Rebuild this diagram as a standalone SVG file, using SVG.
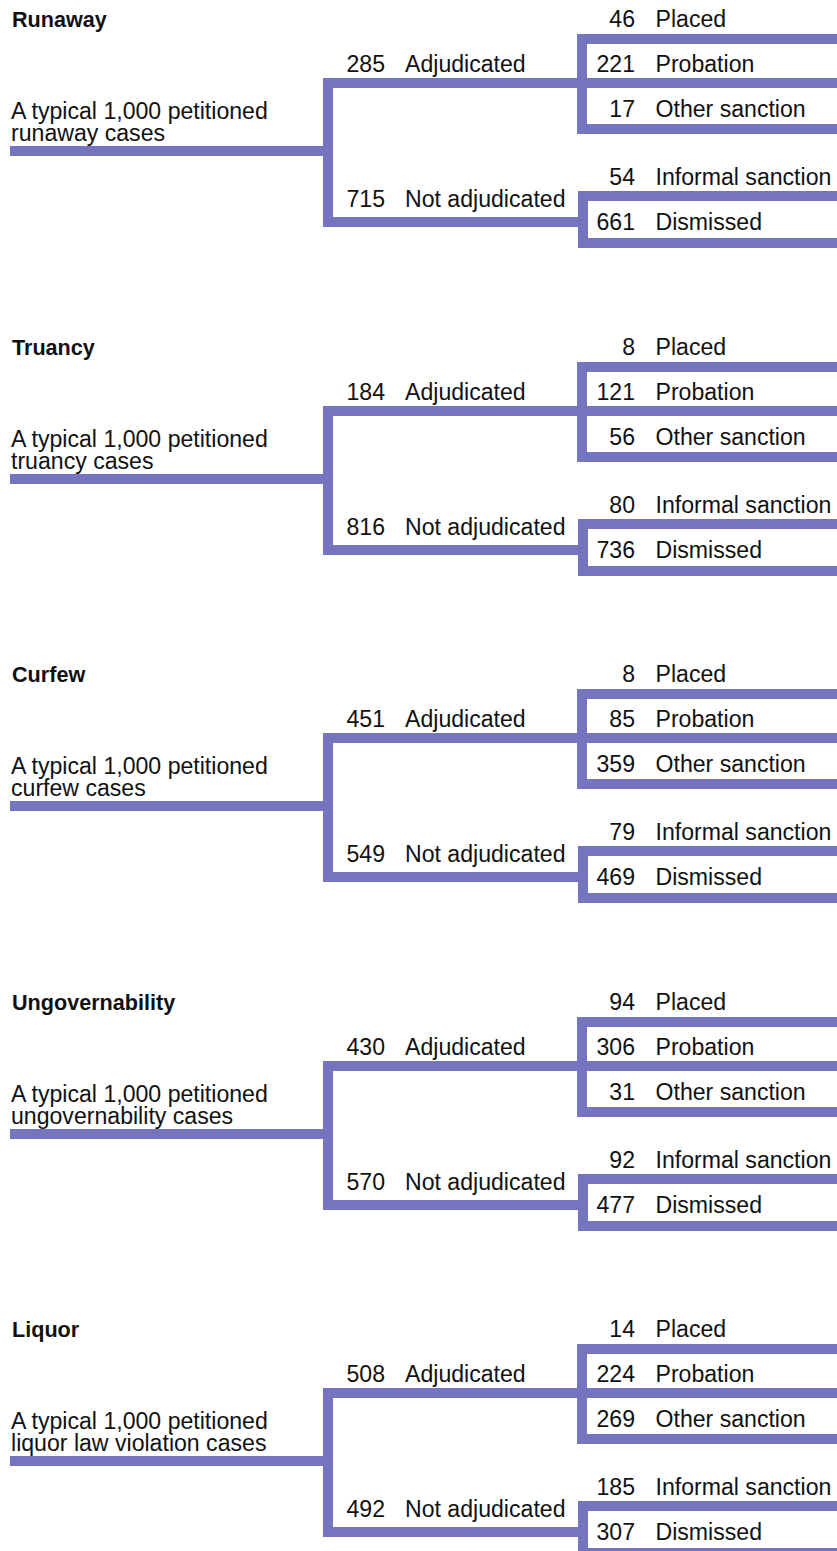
<svg xmlns="http://www.w3.org/2000/svg" xmlns:xlink="http://www.w3.org/1999/xlink" width="837" height="1551" viewBox="0 0 837 1551">
<style>
text{font-family:"Liberation Sans",Arial,Helvetica,sans-serif;font-size:23.1px;fill:#111}
.t{font-weight:bold;font-size:21.6px}
.n{text-anchor:end}
.ln{fill:none;stroke:#7474bf;stroke-width:10;stroke-linejoin:miter;stroke-linecap:butt}
</style>
<defs>
<g id="tree" class="ln">
<path d="M10,151 H328"/>
<path d="M577,83 H328 V222 H583"/>
<path d="M837,39 H582 V129 H837"/>
<path d="M582,83 H837"/>
<path d="M837,196 H583 V243 H837"/>
</g>
</defs>
<rect width="837" height="1551" fill="#fff"/>
<g id="connectors">
<use xlink:href="#tree" href="#tree" y="0"/>
<use xlink:href="#tree" href="#tree" y="328"/>
<use xlink:href="#tree" href="#tree" y="655"/>
<use xlink:href="#tree" href="#tree" y="983"/>
<use xlink:href="#tree" href="#tree" y="1310"/>
</g>

<g id="runaway" transform="translate(0,0)">
<g id="runaway-title"><text class="t" x="12" y="27">Runaway</text></g>
<g id="runaway-root"><text x="11" y="118.5">A typical 1,000 petitioned</text><text x="11" y="141">runaway cases</text></g>
<g id="runaway-adj"><text class="n" x="385" y="72">285</text><text x="405" y="72">Adjudicated</text></g>
<g id="runaway-notadj"><text class="n" x="385" y="207">715</text><text x="405" y="207">Not adjudicated</text></g>
<g id="runaway-placed"><text class="n" x="635" y="27">46</text><text x="655.5" y="27">Placed</text></g>
<g id="runaway-probation"><text class="n" x="635" y="72">221</text><text x="655.5" y="72">Probation</text></g>
<g id="runaway-other"><text class="n" x="635" y="117">17</text><text x="655.5" y="117">Other sanction</text></g>
<g id="runaway-informal"><text class="n" x="635" y="185">54</text><text x="655.5" y="185">Informal sanction</text></g>
<g id="runaway-dismissed"><text class="n" x="635" y="230">661</text><text x="655.5" y="230">Dismissed</text></g>
</g>

<g id="truancy" transform="translate(0,328)">
<g id="truancy-title"><text class="t" x="12" y="27">Truancy</text></g>
<g id="truancy-root"><text x="11" y="118.5">A typical 1,000 petitioned</text><text x="11" y="141">truancy cases</text></g>
<g id="truancy-adj"><text class="n" x="385" y="72">184</text><text x="405" y="72">Adjudicated</text></g>
<g id="truancy-notadj"><text class="n" x="385" y="207">816</text><text x="405" y="207">Not adjudicated</text></g>
<g id="truancy-placed"><text class="n" x="635" y="27">8</text><text x="655.5" y="27">Placed</text></g>
<g id="truancy-probation"><text class="n" x="635" y="72">121</text><text x="655.5" y="72">Probation</text></g>
<g id="truancy-other"><text class="n" x="635" y="117">56</text><text x="655.5" y="117">Other sanction</text></g>
<g id="truancy-informal"><text class="n" x="635" y="185">80</text><text x="655.5" y="185">Informal sanction</text></g>
<g id="truancy-dismissed"><text class="n" x="635" y="230">736</text><text x="655.5" y="230">Dismissed</text></g>
</g>

<g id="curfew" transform="translate(0,655)">
<g id="curfew-title"><text class="t" x="12" y="27">Curfew</text></g>
<g id="curfew-root"><text x="11" y="118.5">A typical 1,000 petitioned</text><text x="11" y="141">curfew cases</text></g>
<g id="curfew-adj"><text class="n" x="385" y="72">451</text><text x="405" y="72">Adjudicated</text></g>
<g id="curfew-notadj"><text class="n" x="385" y="207">549</text><text x="405" y="207">Not adjudicated</text></g>
<g id="curfew-placed"><text class="n" x="635" y="27">8</text><text x="655.5" y="27">Placed</text></g>
<g id="curfew-probation"><text class="n" x="635" y="72">85</text><text x="655.5" y="72">Probation</text></g>
<g id="curfew-other"><text class="n" x="635" y="117">359</text><text x="655.5" y="117">Other sanction</text></g>
<g id="curfew-informal"><text class="n" x="635" y="185">79</text><text x="655.5" y="185">Informal sanction</text></g>
<g id="curfew-dismissed"><text class="n" x="635" y="230">469</text><text x="655.5" y="230">Dismissed</text></g>
</g>

<g id="ungovernability" transform="translate(0,983)">
<g id="ungovernability-title"><text class="t" x="12" y="27">Ungovernability</text></g>
<g id="ungovernability-root"><text x="11" y="118.5">A typical 1,000 petitioned</text><text x="11" y="141">ungovernability cases</text></g>
<g id="ungovernability-adj"><text class="n" x="385" y="72">430</text><text x="405" y="72">Adjudicated</text></g>
<g id="ungovernability-notadj"><text class="n" x="385" y="207">570</text><text x="405" y="207">Not adjudicated</text></g>
<g id="ungovernability-placed"><text class="n" x="635" y="27">94</text><text x="655.5" y="27">Placed</text></g>
<g id="ungovernability-probation"><text class="n" x="635" y="72">306</text><text x="655.5" y="72">Probation</text></g>
<g id="ungovernability-other"><text class="n" x="635" y="117">31</text><text x="655.5" y="117">Other sanction</text></g>
<g id="ungovernability-informal"><text class="n" x="635" y="185">92</text><text x="655.5" y="185">Informal sanction</text></g>
<g id="ungovernability-dismissed"><text class="n" x="635" y="230">477</text><text x="655.5" y="230">Dismissed</text></g>
</g>

<g id="liquor" transform="translate(0,1310)">
<g id="liquor-title"><text class="t" x="12" y="27">Liquor</text></g>
<g id="liquor-root"><text x="11" y="118.5">A typical 1,000 petitioned</text><text x="11" y="141">liquor law violation cases</text></g>
<g id="liquor-adj"><text class="n" x="385" y="72">508</text><text x="405" y="72">Adjudicated</text></g>
<g id="liquor-notadj"><text class="n" x="385" y="207">492</text><text x="405" y="207">Not adjudicated</text></g>
<g id="liquor-placed"><text class="n" x="635" y="27">14</text><text x="655.5" y="27">Placed</text></g>
<g id="liquor-probation"><text class="n" x="635" y="72">224</text><text x="655.5" y="72">Probation</text></g>
<g id="liquor-other"><text class="n" x="635" y="117">269</text><text x="655.5" y="117">Other sanction</text></g>
<g id="liquor-informal"><text class="n" x="635" y="185">185</text><text x="655.5" y="185">Informal sanction</text></g>
<g id="liquor-dismissed"><text class="n" x="635" y="230">307</text><text x="655.5" y="230">Dismissed</text></g>
</g>
</svg>
